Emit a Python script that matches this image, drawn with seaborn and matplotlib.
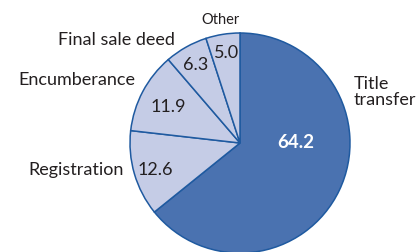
"""Pie chart: share of transaction steps."""

import matplotlib
matplotlib.use("Agg")
import matplotlib.pyplot as plt
import seaborn as sns

sns.set_theme(style="white")
plt.rcParams["font.family"] = ["Lato", "DejaVu Sans"]

CATEGORIES = ["Title\ntransfer", "Registration", "Encumberance", "Final sale deed", "Other"]
SHARES = [64.2, 12.6, 11.9, 6.3, 5.0]

DARK = "#4a72b0"
LIGHT = "#c5cce6"
EDGE = "#1f5aa0"
TEXT = "#231f20"

# label placement (data coords of a unit pie) and alignment
NAME_POS = [(1.03, 0.46, "left"), (-1.06, -0.245, "right"), (-0.95, 0.57, "right"),
            (-0.59, 0.94, "right"), (-0.18, 1.12, "center")]
VALUE_POS = [(0.51, 0.0), (-0.77, -0.245), (-0.655, 0.327), (-0.40, 0.71), (-0.118, 0.82)]

fig = plt.figure(figsize=(4.17, 2.52), dpi=100)
ax = fig.add_axes([130 / 417, -1 / 252, 220 / 417, 220 / 252])

colors = [DARK] + [LIGHT] * (len(SHARES) - 1)
wedges, _ = ax.pie(
    SHARES, colors=colors, startangle=90, counterclock=False, radius=1,
    wedgeprops={"edgecolor": EDGE, "linewidth": 1.1},
)
ax.set_xlim(-1, 1)
ax.set_ylim(-1, 1)
ax.set_aspect("equal")
ax.axis("off")

for i, (name, val) in enumerate(zip(CATEGORIES, SHARES)):
    nx, ny, ha = NAME_POS[i]
    small = name == "Other"
    ax.text(nx, ny, name, ha=ha, va="center", fontsize=10.5 if small else 13,
            color=TEXT, linespacing=1.0, clip_on=False)
    vx, vy = VALUE_POS[i]
    if i == 0:
        ax.text(vx, vy, f"{val:.1f}", ha="center", va="center", fontsize=13.5,
                color="white", fontweight="bold")
    else:
        ax.text(vx, vy, f"{val:.1f}", ha="center", va="center", fontsize=13, color=TEXT)

fig.savefig("out.png", dpi=100)
